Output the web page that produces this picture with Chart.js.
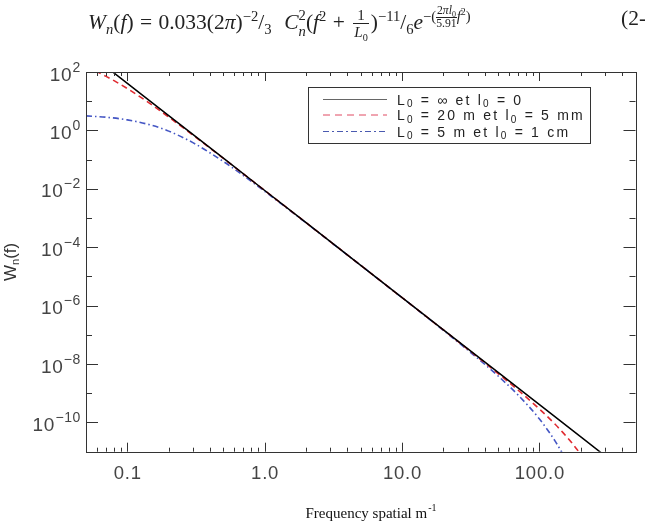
<!DOCTYPE html>
<html><head><meta charset="utf-8">
<script src="https://cdn.jsdelivr.net/npm/chart.js@4.4.1/dist/chart.umd.min.js"></script>
<style>
html,body{margin:0;padding:0;background:#fff;}
#wrap{position:relative;width:645px;height:523px;overflow:hidden;background:#fff;}
#c{position:absolute;left:0;top:0;}
#eq{position:absolute;left:88px;top:5px;font-family:'Liberation Serif','DejaVu Serif',serif;font-size:21.5px;color:#222;white-space:nowrap;line-height:26px;word-spacing:1px;}
#eq sub,#eq sup{font-size:0.68em;line-height:0;}
.ss{display:inline-block;vertical-align:middle;font-size:0.68em;line-height:1.05;text-align:left;}
.ss span{display:block;}
.fr{display:inline-block;vertical-align:middle;text-align:center;font-size:0.7em;line-height:1.1;margin:0 2px;}
.fr span{display:block;padding:0 1px;}
.fr .num{border-bottom:1px solid #222;}
.efr{display:inline-block;vertical-align:middle;text-align:center;font-size:0.8em;line-height:1.0;}
.efr span{display:block;}
.efr .num{border-bottom:1px solid #222;}
#eqn{position:absolute;left:621px;top:5px;font-family:'Liberation Serif','DejaVu Serif',serif;font-size:21.5px;color:#222;line-height:26px;white-space:nowrap;}
</style>
</head>
<body>
<div id="wrap">
<canvas id="c" width="645" height="523"></canvas>
<div id="eq"><i>W</i><sub><i>n</i></sub>(<i>f</i>) = 0.033(2<i>π</i>)<sup>−2</sup>/<sub>3</sub>&nbsp; <i>C</i><span class="ss"><span>2</span><span><i>n</i></span></span>(<i>f</i><sup>2</sup> + <span class="fr"><span class="num">1</span><span><i>L</i><sub>0</sub></span></span>)<sup>−11</sup>/<sub>6</sub><i>e</i><sup>−(<span class="efr"><span class="num">2<i>πl</i><sub>0</sub></span><span>5.91</span></span><i>f</i><sup>2</sup>)</sup></div>
<div id="eqn">(2-3</div>
</div>
<script>
// ---- data ----
const freqBlack = [0.07, 0.1, 0.2, 0.5, 1, 2, 5, 10, 20, 50, 100, 200, 300];
const wBlack    = [151, 40.8, 3.21, 0.112, 0.00879, 6.92e-4, 2.40e-5, 1.89e-6, 1.49e-7, 5.18e-9, 4.07e-10, 3.21e-11, 7.24e-12];

const freqRed = [0.05, 0.06, 0.07, 0.08, 0.1, 0.12, 0.15, 0.2, 0.3, 0.5, 1, 2, 5, 10, 20, 30, 50, 70, 100, 130, 150, 170, 200, 250];
const wRed    = [145, 101, 70.8, 50.5, 27.1, 15.6, 7.60, 2.87, 0.691, 0.110, 0.00875, 6.92e-4, 2.40e-5, 1.88e-6, 1.47e-7, 3.26e-8, 4.75e-9, 1.27e-9, 2.88e-10, 8.67e-11, 4.23e-11, 2.14e-11, 8.0e-12, 1.6e-12];

const freqBlue = [0.05, 0.07, 0.1, 0.15, 0.2, 0.3, 0.5, 0.7, 1, 2, 5, 10, 20, 30, 50, 70, 100, 130, 150, 170];
const wBlue    = [3.14, 2.83, 2.30, 1.50, 0.945, 0.381, 0.0861, 0.0284, 0.0082, 6.81e-4, 2.39e-5, 1.87e-6, 1.42e-7, 3.04e-8, 3.90e-9, 8.65e-10, 1.31e-10, 2.30e-11, 7.2e-12, 2.2e-12];

const seriesLabels = ['L0 = ∞ et l0 = 0', 'L0 = 20 m et l0 = 5 mm', 'L0 = 5 m et l0 = 1 cm'];
const xTickLabels = ['0.1', '1.0', '10.0', '100.0'];
const xTickValues = [0.1, 1, 10, 100];
const yExponents  = [2, 0, -2, -4, -6, -8, -10];
const xTitle = 'Frequency spatial m';
const yTitle = 'W';

const toXY = (xs, ys) => xs.map((v, i) => ({x: v, y: ys[i]}));

const AXC = '#333';
const decor = {
  id: 'decor',
  afterDraw(chart) {
    const {ctx, chartArea: a, scales: {x, y}} = chart;
    ctx.save();
    // frame
    ctx.strokeStyle = AXC; ctx.lineWidth = 1;
    ctx.strokeRect(Math.round(a.left) + 0.5, Math.round(a.top) + 0.5, Math.round(a.right - a.left), Math.round(a.bottom - a.top));
    // x ticks (inward, bottom and top)
    ctx.beginPath();
    for (let d = -2; d <= 2; d++) {
      for (let m = 1; m <= 9; m++) {
        const v = m * Math.pow(10, d);
        if (v < 0.05 - 1e-9 || v > 500 + 1e-9) continue;
        const px = Math.round(x.getPixelForValue(v)) + 0.5;
        const len = m === 1 ? 9 : 4;
        ctx.moveTo(px, a.bottom); ctx.lineTo(px, a.bottom - len);
        ctx.moveTo(px, a.top); ctx.lineTo(px, a.top + len);
      }
    }
    // y ticks (inward, left and right)
    for (let e = -11; e <= 2; e++) {
      const py = Math.round(y.getPixelForValue(Math.pow(10, e))) + 0.5;
      const len = (e % 2 === 0) ? 12 : 6;
      ctx.moveTo(a.left, py); ctx.lineTo(a.left + len, py);
      ctx.moveTo(a.right, py); ctx.lineTo(a.right - len, py);
    }
    ctx.stroke();

    // x tick labels
    ctx.fillStyle = '#444';
    ctx.font = '18.5px "Liberation Sans", Arial, sans-serif';
    ctx.letterSpacing = '0.8px';
    ctx.textAlign = 'center'; ctx.textBaseline = 'alphabetic';
    xTickValues.forEach((v, i) => {
      ctx.fillText(xTickLabels[i], x.getPixelForValue(v) + 0.4, a.bottom + 27);
    });
    // y tick labels 10^e
    ctx.textAlign = 'left';
    ctx.letterSpacing = '0.6px';
    const baseFont = '19px "Liberation Sans", Arial, sans-serif';
    const expFont = '14px "Liberation Sans", Arial, sans-serif';
    yExponents.forEach(e => {
      const py = y.getPixelForValue(Math.pow(10, e));
      const es = e < 0 ? '−' + (-e) : String(e);
      ctx.font = expFont;
      const ew = ctx.measureText(es).width;
      ctx.font = baseFont;
      const bw = ctx.measureText('10').width;
      const right = a.left - 5;
      ctx.fillText('10', right - ew - bw - 0.5, py + 8.5);
      ctx.font = expFont;
      ctx.fillText(es, right - ew, py - 0.5);
    });
    ctx.letterSpacing = '0px';

    // y title (rotated)
    ctx.save();
    ctx.translate(16, (a.top + a.bottom) / 2);
    ctx.rotate(-Math.PI / 2);
    ctx.fillStyle = '#333';
    const tf = '17px "Liberation Sans", Arial, sans-serif';
    const sf = '11px "Liberation Sans", Arial, sans-serif';
    ctx.font = tf;
    const t1 = yTitle, t2 = 'n', t3 = '(f)';
    const w1 = ctx.measureText(t1).width;
    ctx.font = sf;
    const w2 = ctx.measureText(t2).width;
    ctx.font = tf;
    const w3 = ctx.measureText(t3).width;
    let sx = -(w1 + w2 + w3) / 2;
    ctx.textAlign = 'left';
    ctx.fillText(t1, sx, 0); sx += w1;
    ctx.font = sf;
    ctx.fillText(t2, sx, 3); sx += w2;
    ctx.font = tf;
    ctx.fillText(t3, sx, 0);
    ctx.restore();

    // x title
    ctx.fillStyle = '#111';
    ctx.font = '15px "Liberation Serif", "Times New Roman", serif';
    const tw = ctx.measureText(xTitle).width;
    ctx.font = '10px "Liberation Serif", "Times New Roman", serif';
    const sw = ctx.measureText('-1').width;
    const cx = 370.5 - (tw + sw) / 2;
    ctx.font = '15px "Liberation Serif", "Times New Roman", serif';
    ctx.textAlign = 'left';
    ctx.fillText(xTitle, cx, 518);
    ctx.font = '10px "Liberation Serif", "Times New Roman", serif';
    ctx.fillText('-1', cx + tw + 1, 511);

    // legend box
    ctx.strokeStyle = '#333'; ctx.lineWidth = 1;
    ctx.strokeRect(308.5, 87.5, 282, 56);
    const rows = [99.5, 115, 131.5];
    const styles = [
      {c: '#666', d: []},
      {c: '#e04a62', d: [7, 5]},
      {c: '#4a5ab0', d: [6, 3, 2, 3]}
    ];
    rows.forEach((ry, i) => {
      ctx.beginPath();
      ctx.strokeStyle = styles[i].c; ctx.setLineDash(styles[i].d);
      ctx.moveTo(323, ry); ctx.lineTo(387, ry); ctx.stroke();
    });
    ctx.setLineDash([]);
    ctx.fillStyle = '#222';
    ctx.letterSpacing = '2.2px';
    rows.forEach((ry, i) => {
      const lab = seriesLabels[i];
      const parts = [];
      let buf = '';
      for (let k = 0; k < lab.length; k++) {
        const ch = lab[k];
        if (ch === '0' && (lab[k - 1] === 'L' || lab[k - 1] === 'l')) {
          parts.push({t: buf, sub: false}); buf = '';
          parts.push({t: '0', sub: true});
        } else buf += ch;
      }
      parts.push({t: buf, sub: false});
      let px = 397;
      parts.forEach(p => {
        ctx.font = p.sub ? '10px "Liberation Sans", Arial, sans-serif' : '14px "Liberation Sans", Arial, sans-serif';
        ctx.fillText(p.t, px, ry + 5 + (p.sub ? 2.5 : 0));
        px += ctx.measureText(p.t).width;
      });
    });
    ctx.letterSpacing = '0px';
    ctx.restore();
  }
};

new Chart(document.getElementById('c'), {
  type: 'line',
  data: {
    datasets: [
      {label: seriesLabels[0], data: toXY(freqBlack, wBlack), borderColor: '#000000', borderWidth: 1.5, pointRadius: 0, fill: false},
      {label: seriesLabels[1], data: toXY(freqRed, wRed), borderColor: '#e02a30', borderWidth: 1.6, borderDash: [6, 4], pointRadius: 0, fill: false, cubicInterpolationMode: 'monotone'},
      {label: seriesLabels[2], data: toXY(freqBlue, wBlue), borderColor: '#4456c4', borderWidth: 1.6, borderDash: [6, 3, 1.5, 3], pointRadius: 0, fill: false, cubicInterpolationMode: 'monotone'}
    ]
  },
  options: {
    responsive: false,
    animation: false,
    devicePixelRatio: 1,
    layout: {padding: {left: 86, top: 72, right: 9.5, bottom: 71.3}},
    plugins: {legend: {display: false}, tooltip: {enabled: false}, title: {display: false}},
    scales: {
      x: {type: 'logarithmic', min: 0.05, max: 500, display: false},
      y: {type: 'logarithmic', min: 1e-11, max: 100, display: false}
    }
  },
  plugins: [decor]
});
</script>
</body></html>
